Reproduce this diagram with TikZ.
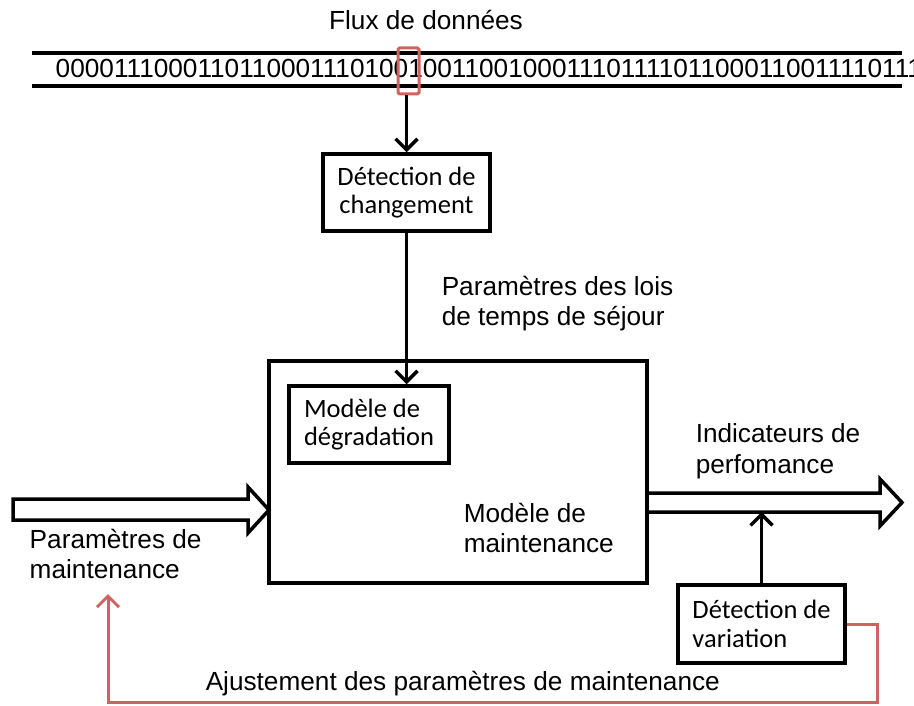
\documentclass[tikz,border=0pt]{standalone}
\usepackage{fontspec}
\setmainfont{Liberation Sans}
\newfontfamily\calibri{Carlito}
\usetikzlibrary{arrows.meta}
\definecolor{rouge}{RGB}{206,100,95}

\begin{document}
\begin{tikzpicture}[x=1pt, y=-1pt, line width=3.5pt,
  txt/.style={font=\fontsize{26.2}{30.5}\selectfont, inner sep=0, align=left},
  boite/.style={draw, inner sep=0, align=left, font=\calibri\fontsize{26.5}{28.5}\selectfont},
  fleche/.style={-{Straight Barb[length=11pt,width=22pt]}}]
\useasboundingbox (0,0) rectangle (914,706);

% flux de donnees
\node[txt, anchor=base] (flux) at (426,30) {Flux de données};
\draw[line width=4.5pt] (32,53) -- (902,53);
\draw[line width=4.5pt] (32,86) -- (902,86);
\begin{scope}
\clip (0,40) rectangle (914,100);
\node[txt, font=\fontsize{26.2}{30}\selectfont, anchor=base west] (bits) at (54,78) {00001110001101100011101001001100100011101111011000110011110111};
\end{scope}
\node[draw=rouge, line width=3pt, rounded corners=1.5pt, minimum width=21, minimum height=46, inner sep=0] (bit) at (408.5,71) {};

% boites
\node[boite, align=center, minimum width=167, minimum height=77] (chgt) at (406.5,192.5) {Détection de\\changement};
\node[draw, minimum width=378, minimum height=222, inner sep=0] (maint) at (458,472) {};
\node[boite, minimum width=160, minimum height=77] (degr) at (369,424.5) {Modèle de\\dégradation};
\node[boite, minimum width=167, minimum height=78] (var) at (761.5,624) {Détection de\\variation};

\draw[fleche] (chgt.north |- bit.south) -- (chgt.north);
\draw[fleche] (chgt.south) -- (chgt.south |- degr.north);

% textes
\node[txt, anchor=north west] (lois) at (440,274) {Paramètres des lois\\de temps de séjour};
\node[txt, anchor=north west] (mm) at (462,501) {Modèle de\\maintenance};
\node[txt, anchor=north west] (indic) at (694,422) {Indicateurs de\\perfomance};
\node[txt, anchor=north west] (pm) at (28,527) {Paramètres de\\maintenance};
\node[txt, anchor=base west] (ajust) at (204,690) {Ajustement des paramètres de maintenance};

% fleches larges
\coordinate (entree) at (269,510);
\draw (entree) ++(-256,-11) -- ++(235,0) -- ++(0,-12) -- (entree) -- ++(-21,23) -- ++(0,-13) -- ++(-235,0) -- cycle;
\coordinate (sortie) at (902,502.5);
\draw (sortie) ++(-255,-9.5) -- ++(233,0) -- ++(0,-14) -- (sortie) -- ++(-22,23.5) -- ++(0,-14) -- ++(-233,0);

\coordinate (mesure) at (761.5,512);
\draw[fleche] (var.north) -- (mesure);

% retour
\coordinate (retour) at (108,594);
\draw[rouge, line width=3pt, fleche] (var.east) -| (877,702) -| (retour);
\end{tikzpicture}
\end{document}
